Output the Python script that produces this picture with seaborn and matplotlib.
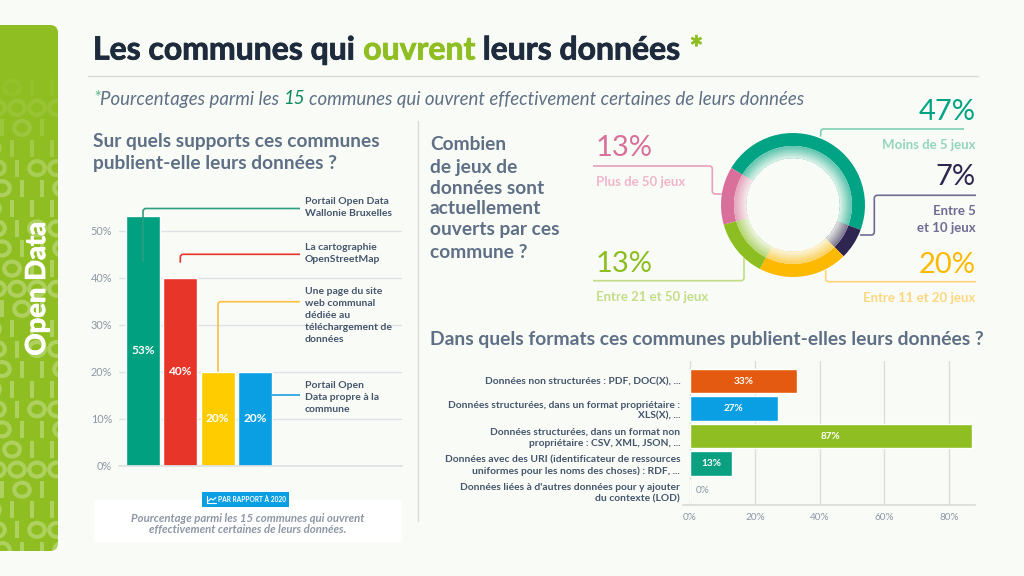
import matplotlib
matplotlib.use("Agg")
import matplotlib.pyplot as plt
import matplotlib.patheffects as pe
import seaborn as sns
from matplotlib.colors import to_rgb
from matplotlib.patches import Ellipse, FancyBboxPatch, PathPatch, Rectangle
from matplotlib.path import Path

W, H = 1024, 576
BG = "#f9fcf6"
GREY = "#8d97a5"
SLATE = "#5f6f85"
DARK = "#1e2b3c"
INK = "#45556c"
LIME = "#8fbe22"

# bar chart, supports
support_names = ["Portail Open Data Wallonie Bruxelles", "La cartographie OpenStreetMap",
                 "Une page du site web communal", "Portail Open Data propre à la commune"]
support_values = [53, 40, 20, 20]
support_colors = ["#00a080", "#e8352a", "#ffcc00", "#0a9fe3"]
support_ticks = [0, 10, 20, 30, 40, 50]

# donut, number of datasets
donut_names = ["Moins de 5 jeux", "Entre 5 et 10 jeux", "Entre 11 et 20 jeux", "Entre 21 et 50 jeux", "Plus de 50 jeux"]
donut_values = [47, 7, 20, 13, 13]
donut_colors = ["#00a383", "#2e2650", "#fdb900", "#8cbe22", "#d9709b"]

# bar chart, formats
format_names = ["Données non structurées : PDF, DOC(X), ...",
                "Données structurées, dans un format propriétaire :\nXLS(X), ...",
                "Données structurées, dans un format non\npropriétaire : CSV, XML, JSON, ...",
                "Données avec des URI (identificateur de ressources\nuniformes pour les noms des choses) : RDF, ...",
                "Données liées à d'autres données pour y ajouter\ndu contexte (LOD)"]
format_values = [33, 27, 87, 13, 0]
format_colors = ["#e35a10", "#0a9fe3", "#8fbe22", "#0ba080", "#d0d4da"]
format_ticks = [0, 20, 40, 60, 80]

# decorative pattern of the sidebar, read from the bottom up
binary_rows = ["0110", "0100", "0111", "1011", "0000", "1011", "0110", "0100", "0111"]

sns.set_theme(style="whitegrid")
plt.rcParams["font.family"] = ["Lato", "DejaVu Sans"]


def px_axes(x0, y0, x1, y1, zorder=2):
    a = fig.add_axes([x0 / W, 1 - y1 / H, (x1 - x0) / W, (y1 - y0) / H], zorder=zorder)
    a.patch.set_alpha(0)
    return a


def leader(points, color, lw=1.2, r=3):
    # polyline with small rounded corners
    verts = [points[0]]
    codes = [Path.MOVETO]
    for i in range(1, len(points) - 1):
        (x0, y0), (x1, y1), (x2, y2) = points[i - 1], points[i], points[i + 1]
        dx0 = (x1 > x0) - (x1 < x0)
        dy0 = (y1 > y0) - (y1 < y0)
        dx2 = (x2 > x1) - (x2 < x1)
        dy2 = (y2 > y1) - (y2 < y1)
        verts += [(x1 - dx0 * r, y1 - dy0 * r), (x1, y1), (x1 + dx2 * r, y1 + dy2 * r)]
        codes += [Path.LINETO, Path.CURVE3, Path.CURVE3]
    verts.append(points[-1])
    codes.append(Path.LINETO)
    ov.add_patch(PathPatch(Path(verts, codes), fc="none", ec=color, lw=lw))


def chain(x, y, parts, size, stroke=0, **kw):
    # text pieces of different colours on one line
    rend = fig.canvas.get_renderer()
    for s, col, gap in parts:
        t = ov.text(x, y, s, color=col, fontsize=size, va="center", ha="left", **kw)
        if stroke:
            t.set_path_effects([pe.withStroke(linewidth=stroke, foreground=col)])
        x = t.get_window_extent(rend).x1 + gap


def lines(x, ys, rows, **kw):
    for y, s in zip(ys, rows):
        ov.text(x, y, s, va="center", **kw)


fig = plt.figure(figsize=(W / 100, H / 100), dpi=100, facecolor=BG)

bg = px_axes(0, 0, W, H, zorder=0)
bg.set_xlim(0, W)
bg.set_ylim(H, 0)
bg.axis("off")
ov = px_axes(0, 0, W, H, zorder=5)
ov.set_xlim(0, W)
ov.set_ylim(H, 0)
ov.axis("off")

# sidebar
side = FancyBboxPatch((-20, 25), 78, 526, boxstyle="round,pad=0,rounding_size=8", fc=LIME, ec="none")
bg.add_patch(side)
for i in range(25):
    y = 550 - i * 20.1
    alpha = 0.28 if y > 190 else max(0.0, 0.28 * (y - 70) / 120)
    if alpha <= 0:
        continue
    row = binary_rows[i % len(binary_rows)]
    for j, ch in enumerate(row):
        x = 2 + j * 20 - (i % 3) * 5
        if ch == "0":
            m = Ellipse((x, y), 15.5, 14, fc="none", ec="white", lw=3, alpha=alpha)
        else:
            m = Rectangle((x - 2, y - 8.5), 4, 17, fc="white", ec="none", alpha=alpha)
        bg.add_patch(m)
        m.set_clip_path(side)
t = ov.text(37, 289, "Open Data", color="white", fontsize=19.8, fontweight="bold", rotation=90, ha="center", va="center")
t.set_path_effects([pe.withStroke(linewidth=0.6, foreground="white")])

# header
chain(93, 50, [("Les communes qui", DARK, 8), ("ouvrent", LIME, 7), ("leurs données", DARK, 9), ("*", LIME, 0)],
      23, stroke=0.6, fontweight="bold")
ov.plot([88, 978], [75.5, 75.5], color="#d8dbd8", lw=1)
chain(93, 99, [("*", "#5fb88f", 0), ("Pourcentages parmi les", SLATE, 4), ("15", "#0a8a62", 4),
               ("communes qui ouvrent effectivement certaines de leurs données", SLATE, 0)],
      13.4, fontstyle="italic")
ov.plot([418, 418], [121, 521], color="#d8dbd8", lw=1)

# supports chart
lines(93, [142, 163], ["Sur quels supports ces communes", "publient-elle leurs données ?"],
      color=SLATE, fontsize=13.8, fontweight="bold")
ax = px_axes(119, 207, 402, 466)
sns.barplot(x=support_names, y=support_values, hue=support_names, palette=support_colors,
            dodge=False, legend=False, width=0.91, saturation=1, ax=ax)
ax.set_xlim(-0.64, 6.93)
ax.set_ylim(0, 55)
ax.set_yticks(support_ticks)
ax.set_yticklabels([f"{v}%" for v in support_ticks], color=GREY, fontsize=7.8)
ax.set_xticks([])
ax.grid(axis="y", color="#dfe2e4", lw=1)
ax.grid(axis="x", visible=False)
ax.set_axisbelow(True)
ax.tick_params(axis="y", length=0, pad=5)
for s in ["top", "left", "right"]:
    ax.spines[s].set_visible(False)
ax.spines["bottom"].set_color("#dfe2e4")
for i, c in enumerate(ax.containers):
    lab = ax.bar_label(c, fmt="%g%%", label_type="center", color="white", fontsize=8.6, fontweight="bold")
    if i == 0:
        lab[0].xyann = (0, -7)

leader([(143, 262), (143, 208.5), (300, 208.5)], "#2f9d7f")
leader([(180.3, 262.7), (180.3, 254.3), (300, 254.3)], "#e8352a")
leader([(218, 371.7), (218, 301.7), (300, 301.7)], "#f9bf3f")
leader([(272, 395.3), (300, 395.3)], "#1f9fe0")
lab_style = dict(color=INK, fontsize=7.5, fontweight="bold")
lines(305, [202, 214], ["Portail Open Data", "Wallonie Bruxelles"], **lab_style)
lines(305, [248, 260], ["La cartographie", "OpenStreetMap"], **lab_style)
lines(305, [291, 303, 315, 327, 339], ["Une page du site", "web communal", "dédiée au",
                                       "téléchargement de", "données"], **lab_style)
lines(305, [385, 397, 409], ["Portail Open", "Data propre à la", "commune"], **lab_style)

# note under the chart
bg.add_patch(Rectangle((94, 500), 308, 42, fc="white", ec="none"))
ov.add_patch(Rectangle((202, 492), 87, 15, fc="#0a9fe3", ec="none"))
ov.plot([207, 207, 216], [496, 503, 503], color="white", lw=0.8)
ov.plot([208.5, 211, 213, 216], [501, 498.5, 500, 497.5], color="white", lw=0.8)
ov.text(252.5, 499.5, "PAR RAPPORT À 2020", color="white", fontsize=4.8, fontweight="bold", ha="center", va="center")
for y, s in zip([518, 530], ["Pourcentage parmi les 15 communes qui ouvrent",
                             "effectivement certaines de leurs données."]):
    ov.text(248, y, s, color=GREY, fontsize=8.2, fontweight="bold", fontstyle="italic", ha="center", va="center")

# donut
lines(430, [145, 167, 188, 209, 230, 252],
      ["Combien", "de jeux de", "données sont", "actuellement", "ouverts par ces", "commune ?"],
      color=SLATE, fontsize=13.8, fontweight="bold")
dn = px_axes(718, 130, 868, 280, zorder=3)
dn.pie(donut_values, colors=donut_colors, radius=72, startangle=149, counterclock=False,
       wedgeprops=dict(width=13, lw=0))
for r in range(59, 47, -1):
    # lighter towards the hole, painted from the outside in
    k = 0.62 - 0.48 * (59 - r) / 11
    faded = [tuple(k * a + (1 - k) * b for a, b in zip(to_rgb(c), to_rgb(BG))) for c in donut_colors]
    dn.pie(donut_values, colors=faded, radius=r, startangle=149, counterclock=False,
           wedgeprops=dict(width=r - 47, lw=0))
dn.set_xlim(-75, 75)
dn.set_ylim(-75, 75)

pct_style = dict(fontsize=21, va="center")
sub_style = dict(fontsize=9.5, fontweight="bold", va="center")
R = 975.7
L = 596

leader([(820.7, 136.7), (820.7, 129), (964, 129)], "#7fcfb6")
ov.text(R, 112, f"{donut_values[0]}%", color=donut_colors[0], ha="right", **pct_style)
ov.text(R, 145, donut_names[0], color="#93d4bd", ha="right", **sub_style)

leader([(860, 235), (874.3, 235), (874.3, 195.3), (976, 195.3)], "#6f6a93")
ov.text(R, 177, f"{donut_values[1]}%", color=donut_colors[1], ha="right", **pct_style)
ov.text(R, 211, "Entre 5", color="#706b93", ha="right", **sub_style)
ov.text(R, 228, "et 10 jeux", color="#706b93", ha="right", **sub_style)

leader([(825.7, 270), (825.7, 281.7), (976, 281.7)], "#fed27a")
ov.text(R, 265, f"{donut_values[2]}%", color=donut_colors[2], ha="right", **pct_style)
ov.text(R, 298, donut_names[2], color="#fed680", ha="right", **sub_style)

leader([(744, 258), (744, 280.7), (593, 280.7)], "#c1dd85")
ov.text(L, 264, f"{donut_values[3]}%", color=donut_colors[3], ha="left", **pct_style)
ov.text(L, 297, donut_names[3], color="#c3dd8a", ha="left", **sub_style)

leader([(721.7, 194), (712.3, 194), (712.3, 166), (593, 166)], "#e89fbb")
ov.text(L, 148, f"{donut_values[4]}%", color=donut_colors[4], ha="left", **pct_style)
ov.text(L, 182, donut_names[4], color="#efb5cc", ha="left", **sub_style)

# formats chart
ov.text(430, 340, "Dans quels formats ces communes publient-elles leurs données ?", color=SLATE,
        fontsize=13.9, fontweight="bold", va="center")
bx = px_axes(683, 361, 975, 505)
sns.barplot(y=format_names, x=format_values, hue=format_names, palette=format_colors, orient="h",
            dodge=False, legend=False, width=0.9, saturation=1, ax=bx)
bx.set_xlim(-2.2, 88)
bx.set_ylim(4.51, -0.73)
bx.set_xticks(format_ticks)
bx.set_xticklabels([f"{v}%" for v in format_ticks], color=GREY, fontsize=7.2)
bx.set_yticks(range(len(format_names)))
bx.set_yticklabels(format_names, color=INK, fontsize=7.4, fontweight="bold", linespacing=1.3)
bx.set_xlabel("")
bx.set_ylabel("")
bx.grid(axis="x", color="#d9dcd8", lw=1)
bx.grid(axis="y", visible=False)
bx.set_axisbelow(True)
bx.tick_params(axis="both", length=0)
bx.tick_params(axis="x", pad=6)
bx.tick_params(axis="y", pad=2)
for s in ["top", "left", "right"]:
    bx.spines[s].set_visible(False)
bx.spines["bottom"].set_color("#d9dcd8")
for c, v in zip(bx.containers, format_values):
    if v > 0:
        bx.bar_label(c, fmt="%g%%", label_type="center", color="white", fontsize=7.2, fontweight="bold")
    else:
        bx.bar_label(c, fmt="%g%%", label_type="edge", padding=4, color=GREY, fontsize=7.2)

fig.savefig("out.png", dpi=100, facecolor=BG)
